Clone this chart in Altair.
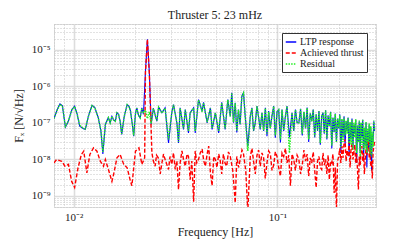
import altair as alt
import pandas as pd

# ---- data (values in nN/sqrt(Hz), i.e. units of 1e-9 N/sqrt(Hz)) ----
freq_ltp = [
    0.0080, 0.0083, 0.00856, 0.0088, 0.0091, 0.0094, 0.0098, 0.0101, 0.0104, 0.0107,
    0.0111, 0.0114, 0.0118, 0.0123, 0.0127, 0.0132, 0.0136, 0.0139, 0.0143, 0.0148,
    0.0151, 0.0154, 0.0157, 0.0160, 0.0163, 0.0166, 0.0169, 0.0172, 0.0177, 0.0183,
    0.0187, 0.0190, 0.0194, 0.0197, 0.0201, 0.0204, 0.0208, 0.0212, 0.0216, 0.0220,
    0.0225, 0.0230, 0.0235, 0.0240, 0.0246, 0.0256, 0.0261, 0.0271, 0.0281, 0.0292,
    0.0303, 0.0309, 0.0321, 0.0327, 0.0333, 0.0346, 0.0353, 0.0366, 0.0373, 0.0388,
    0.0395, 0.0410, 0.0427, 0.0434, 0.0452, 0.0469, 0.0478, 0.0496, 0.0515, 0.0533,
    0.0554, 0.0571, 0.0587, 0.0597, 0.0609, 0.0621, 0.0632, 0.0644, 0.0656, 0.0669,
    0.0682, 0.0695, 0.0716, 0.0736, 0.0750, 0.0764, 0.0779, 0.0794, 0.0809, 0.0824,
    0.0840, 0.0856, 0.0873, 0.0889, 0.0906, 0.0923, 0.0940, 0.0959, 0.0977, 0.0996,
    0.1015, 0.1035, 0.1054, 0.1074, 0.1095, 0.1115, 0.1146, 0.1180, 0.1203, 0.1227,
    0.1250, 0.1275, 0.1300, 0.1325, 0.1350, 0.1375, 0.1400, 0.1425, 0.1450, 0.1475,
    0.1500, 0.1525, 0.1550, 0.1575, 0.1600, 0.1625, 0.1650, 0.1675, 0.1700, 0.1725,
    0.1750, 0.1775, 0.1800, 0.1825, 0.1850, 0.1875, 0.1900, 0.1925, 0.1950, 0.1975,
    0.2000, 0.2025, 0.2050, 0.2075, 0.2100, 0.2125, 0.2150, 0.2175, 0.2200, 0.2225,
    0.2250, 0.2275, 0.2300, 0.2325, 0.2350, 0.2375, 0.2400, 0.2425, 0.2450, 0.2475,
    0.2500, 0.2525, 0.2550, 0.2575, 0.2600, 0.2625, 0.2650, 0.2675, 0.2700, 0.2725,
    0.2750, 0.2775, 0.2800, 0.2825, 0.2850, 0.2875, 0.2900, 0.2925, 0.2950, 0.2975,
    0.3000,
]
ltp_response = [
    130, 230, 330, 290, 76, 110, 230, 285, 170, 81,
    70, 66, 150, 300, 260, 137, 60, 14, 90, 140,
    100, 150, 120, 110, 190, 170, 110, 48, 150, 316,
    280, 210, 90, 43, 180, 257, 160, 137, 257, 170,
    2500, 19000, 2500, 90, 250, 110, 270, 188, 257, 28,
    188, 316, 100, 28, 257, 66, 230, 53, 188, 257,
    53, 430, 208, 360, 100, 257, 66, 188, 53, 360,
    66, 430, 150, 660, 100, 350, 54, 230, 90, 530,
    660, 150, 23, 150, 257, 60, 100, 285, 140, 66,
    188, 60, 257, 43, 208, 70, 150, 285, 39, 200,
    230, 29, 230, 60, 150, 285, 40, 188, 60, 230,
    100, 100, 240, 45, 200, 70, 260, 30, 180, 110,
    230, 40, 170, 60, 210, 25, 150, 190, 50, 220,
    35, 160, 80, 200, 20, 140, 55, 180, 30, 130,
    70, 170, 15, 120, 40, 150, 25, 110, 60, 140,
    12, 100, 35, 130, 20, 90, 50, 120, 8, 80,
    30, 110, 15, 95, 40, 120, 10, 70, 25, 100,
    6, 60, 20, 90, 12, 75, 5, 50, 30, 110,
    60,
]
residual = [
    130, 225, 320, 285, 80, 110, 225, 280, 170, 85,
    72, 68, 148, 295, 255, 135, 62, 16, 90, 138,
    100, 150, 118, 110, 185, 168, 110, 50, 148, 310,
    275, 205, 92, 45, 178, 250, 160, 135, 250, 190,
    220, 130, 200, 95, 245, 115, 265, 185, 250, 35,
    185, 310, 100, 30, 250, 70, 225, 60, 185, 250,
    60, 420, 200, 350, 105, 250, 70, 185, 60, 350,
    70, 420, 150, 650, 105, 340, 60, 225, 92, 520,
    650, 150, 17, 150, 250, 62, 100, 280, 140, 70,
    185, 62, 250, 50, 200, 72, 150, 280, 45, 198,
    225, 35, 225, 62, 150, 280, 15, 185, 62, 225,
    100, 100, 235, 50, 195, 72, 255, 35, 178, 110,
    225, 42, 168, 62, 205, 28, 150, 185, 52, 215,
    38, 158, 80, 195, 24, 140, 56, 175, 30, 128,
    75, 160, 22, 130, 30, 140, 45, 115, 50, 135,
    28, 105, 25, 120, 18, 100, 40, 125, 15, 85,
    30, 115, 12, 100, 25, 125, 18, 75, 20, 105,
    15, 70, 30, 95, 14, 80, 12, 55, 22, 115,
    65,
]

freq_thrust = [
    0.0080, 0.00824, 0.00873, 0.00906, 0.00942, 0.00977, 0.0101, 0.0105, 0.0109, 0.0112,
    0.0116, 0.0120, 0.0125, 0.0130, 0.0135, 0.0140, 0.0143, 0.0148, 0.0154, 0.0157,
    0.0163, 0.0169, 0.0176, 0.0183, 0.0190, 0.0193, 0.0201, 0.0209, 0.0216, 0.0223,
    0.0225, 0.0230, 0.0235, 0.0242, 0.0246, 0.0251, 0.0255, 0.0260, 0.0266, 0.0271,
    0.0276, 0.0281, 0.0292, 0.0297, 0.0303, 0.0309, 0.0315, 0.0321, 0.0327, 0.0333,
    0.0340, 0.0346, 0.0353, 0.0360, 0.0366, 0.0373, 0.0380, 0.0388, 0.0395, 0.0402,
    0.0410, 0.0418, 0.0427, 0.0435, 0.0443, 0.0452, 0.0460, 0.0469, 0.0478, 0.0487,
    0.0496, 0.0505, 0.0515, 0.0523, 0.0533, 0.0543, 0.0553, 0.0564, 0.0575, 0.0587,
    0.0604, 0.0621, 0.0632, 0.0645, 0.0657, 0.0670, 0.0682, 0.0699, 0.0716, 0.0736,
    0.0750, 0.0764, 0.0779, 0.0794, 0.0809, 0.0824, 0.0840, 0.0856, 0.0872, 0.0889,
    0.0906, 0.0924, 0.0941, 0.0959, 0.0977, 0.0996, 0.1015, 0.1035, 0.1054, 0.1074,
    0.1095, 0.1115, 0.1137, 0.1159, 0.1181, 0.1203, 0.1226, 0.1250, 0.1275, 0.1300,
    0.1325, 0.1350, 0.1375, 0.1400, 0.1425, 0.1450, 0.1475, 0.1500, 0.1525, 0.1550,
    0.1575, 0.1600, 0.1625, 0.1650, 0.1675, 0.1700, 0.1725, 0.1750, 0.1775, 0.1800,
    0.1825, 0.1850, 0.1875, 0.1900, 0.1925, 0.1950, 0.1975, 0.2000, 0.2025, 0.2050,
    0.2075, 0.2100, 0.2125, 0.2150, 0.2175, 0.2200, 0.2225, 0.2250, 0.2275, 0.2300,
    0.2325, 0.2350, 0.2375, 0.2400, 0.2425, 0.2450, 0.2475, 0.2500, 0.2525, 0.2550,
    0.2575, 0.2600, 0.2625, 0.2650, 0.2675, 0.2700, 0.2725, 0.2750, 0.2775, 0.2800,
    0.2825, 0.2850, 0.2875, 0.2900, 0.2925, 0.2950, 0.2975, 0.3000,
]
achieved_thrust = [
    8, 9.9, 8.9, 6.5, 7.3, 2.5, 1.7, 5.9, 13.6, 16.8,
    4.3, 13.6, 20.7, 16.8, 8.9, 6.5, 9.9, 5.3, 2.5, 3.9,
    11, 13.6, 7.3, 5.9, 2.5, 1.9, 16.8, 20.7, 7.3, 11,
    2400, 19000, 2400, 15, 9, 6.5, 13, 11, 4, 8,
    14, 10, 5.3, 12, 7.3, 15, 5.3, 9, 1.5, 8,
    17, 10, 6.5, 14, 12, 2.8, 9, 0.7, 17, 8,
    10, 15, 19, 9, 6.5, 14, 23, 4.3, 1.9, 12,
    10, 6, 14, 10, 4, 14, 8, 6.5, 16, 12,
    5, 0.65, 12, 6, 10, 18, 14, 5, 0.4, 12,
    20, 9, 4, 13, 18, 6.5, 15, 11, 3, 8,
    17, 14, 5, 7, 16, 12, 6, 3.5, 15, 12,
    20, 8, 13, 1.9, 14, 10, 5, 13, 10, 4,
    7, 18, 9, 14, 3.5, 11, 8, 16, 5, 1.7,
    9, 12, 6, 5.3, 15, 7, 10, 4, 13, 2.8,
    9, 8, 14, 1.2, 6, 0.4, 9, 12, 20, 8,
    23, 11, 28, 35, 9, 18, 12, 30, 6, 20,
    27, 10, 16, 25, 8, 14, 5, 1.5, 12, 7,
    18, 23, 9, 15, 4, 10, 20, 13, 28, 35,
    11, 18, 6.5, 9, 3, 15, 23, 30,
]

series_names = ["LTP response", "Achieved thrust", "Residual"]
series_colors = ["#0000ff", "#ff0000", "#22ee22"]
series_dashes = [[1, 0], [4, 2], [1.5, 1.2]]

# tick labels
x_tick_values = [0.008, 0.009, 0.01, 0.02, 0.03, 0.04, 0.05, 0.06, 0.07, 0.08, 0.09,
                 0.1, 0.2, 0.3]
y_tick_values = [m * 10.0 ** e for e in range(-10, -4) for m in range(1, 10)
                 if 5e-10 * 0.999 <= m * 10.0 ** e <= 5e-5 * 1.001]

rows = []
for f, v in zip(freq_ltp, ltp_response):
    rows.append({"series": series_names[0], "f": f, "v": v * 1e-9})
for f, v in zip(freq_thrust, achieved_thrust):
    rows.append({"series": series_names[1], "f": f, "v": v * 1e-9})
for f, v in zip(freq_ltp, residual):
    rows.append({"series": series_names[2], "f": f, "v": v * 1e-9})
df = pd.DataFrame(rows)

FONT = "Liberation Serif"
is_decade = "abs(log(datum.value)/LN10 - round(log(datum.value)/LN10)) < 0.001"
sup = "{'-1':'⁻¹','-2':'⁻²','-3':'⁻³','-4':'⁻⁴','-5':'⁻⁵','-6':'⁻⁶','-7':'⁻⁷','-8':'⁻⁸','-9':'⁻⁹'}"
label_expr = f"({is_decade}) ? '10' + {sup}[''+round(log(datum.value)/LN10)] : ''"

grid_dash = {"condition": {"test": is_decade, "value": []}, "value": [1, 2]}
grid_color = {"condition": {"test": is_decade, "value": "#dddddd"}, "value": "#c4c4c4"}
grid_width = {"condition": {"test": is_decade, "value": 1.6}, "value": 1}

x_enc = alt.X("f:Q", scale=alt.Scale(type="log", domain=[0.008, 0.305], nice=False),
              axis=alt.Axis(title="Frequency [Hz]", values=x_tick_values, labelExpr=label_expr,
                            grid=True, gridDash=grid_dash, gridColor=grid_color,
                            gridWidth=grid_width, ticks=False, domain=False,
                            labelFontSize=11, titleFontSize=12, labelPadding=4,
                            titlePadding=4, labelFont=FONT, titleFont=FONT,
                            labelColor="#222", titleColor="#222", titleFontWeight="normal"))
y_enc = alt.Y("v:Q", scale=alt.Scale(type="log", domain=[5e-10, 5e-5], nice=False),
              axis=alt.Axis(title="Fₓ [N/√Hz]", values=y_tick_values, labelExpr=label_expr,
                            grid=True, gridDash=grid_dash, gridColor=grid_color,
                            gridWidth=grid_width, ticks=False, domain=False,
                            labelFontSize=11, titleFontSize=12, labelPadding=4,
                            titlePadding=6, labelFont=FONT, titleFont=FONT,
                            labelColor="#222", titleColor="#222", titleFontWeight="normal"))
color_enc = alt.Color("series:N", scale=alt.Scale(domain=series_names, range=series_colors),
                      legend=alt.Legend(title=None, orient="top-right", offset=9,
                                        symbolType="stroke", symbolStrokeWidth=1.5,
                                        symbolSize=110, labelFont=FONT, labelFontSize=10,
                                        labelColor="#222", strokeColor="#333",
                                        fillColor="white", padding=3, rowPadding=0,
                                        labelOffset=3, labelLimit=70))
dash_enc = alt.StrokeDash("series:N", scale=alt.Scale(domain=series_names, range=series_dashes),
                          legend=None)

base = alt.Chart(df)
layers = []
for name, w in zip(series_names, [1.1, 1.4, 1.5]):
    layers.append(
        base.transform_filter(alt.datum.series == name)
        .mark_line(strokeWidth=w, clip=True)
        .encode(x=x_enc, y=y_enc, color=color_enc, strokeDash=dash_enc)
    )

chart = alt.layer(*layers).properties(
    width=322, height=183,
    title=alt.Title("Thruster 5: 23 mHz", font=FONT, fontSize=12, fontWeight="normal",
                    color="#222", offset=2),
    padding={"left": 46, "top": 16, "right": 30, "bottom": 36},
    autosize=alt.AutoSizeParams(type="none"),
).configure_view(stroke="#222", strokeWidth=1.2).configure(background="white")

chart.save("out.html", embed_options={"renderer": "svg", "actions": False})
